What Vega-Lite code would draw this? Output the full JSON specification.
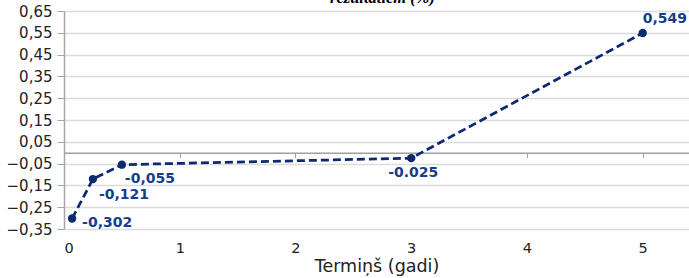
{
  "$schema": "https://vega.github.io/schema/vega-lite/v6.json",
  "width": 625,
  "height": 218,
  "autosize": {"type": "none"},
  "padding": {"left": 64, "top": 11, "right": 0, "bottom": 49},
  "background": "white",
  "title": {
    "text": "rezultātiem (%)",
    "font": "Liberation Serif",
    "fontSize": 16.5,
    "fontStyle": "italic",
    "fontWeight": "bold",
    "color": "#000000",
    "anchor": "middle",
    "baseline": "alphabetic",
    "offset": -15,
    "dx": 6
  },
  "config": {
    "view": {"stroke": null},
    "axis": {"labelFont": "DejaVu Sans", "titleFont": "DejaVu Sans"}
  },
  "data": {
    "values": [
      {"term": 0.07, "value": -0.302, "label": "-0,302"},
      {"term": 0.25, "value": -0.121, "label": "-0,121"},
      {"term": 0.5, "value": -0.055, "label": "-0,055"},
      {"term": 3, "value": -0.025, "label": "-0.025"},
      {"term": 5, "value": 0.549, "label": "0,549"}
    ]
  },
  "encoding": {
    "x": {
      "field": "term",
      "type": "quantitative",
      "scale": {"domain": [0, 5.4], "nice": false, "zero": false},
      "axis": {
        "values": [0, 1, 2, 3, 4, 5],
        "grid": false,
        "offset": -76.3,
        "domainColor": "#a0a0a0",
        "domainWidth": 1.5,
        "tickColor": "#a0a0a0",
        "tickSize": 5,
        "labelPadding": 84,
        "labelFontSize": 14.5,
        "labelColor": "#222222",
        "title": "Termiņš (gadi)",
        "titleFontSize": 17.5,
        "titleFontWeight": "normal",
        "titleColor": "#222222",
        "titlePadding": 2
      }
    },
    "y": {
      "field": "value",
      "type": "quantitative",
      "scale": {"domain": [-0.35, 0.65], "nice": false, "zero": false},
      "axis": {
        "values": [-0.35, -0.25, -0.15, -0.05, 0.05, 0.15, 0.25, 0.35, 0.45, 0.55, 0.65],
        "labelExpr": "replace(format(datum.value, '.2f'), '.', ',')",
        "gridColor": "#dcdcdc",
        "gridWidth": 1.5,
        "domainColor": "#a6a6a6",
        "domainWidth": 1.5,
        "tickColor": "#a6a6a6",
        "tickSize": 7,
        "labelPadding": 5,
        "labelFontSize": 15,
        "labelColor": "#222222",
        "title": null
      }
    }
  },
  "layer": [
    {
      "mark": {"type": "line", "color": "#0d2a6e", "strokeWidth": 2.75, "strokeDash": [8, 4]}
    },
    {
      "mark": {"type": "point", "filled": true, "color": "#0d2a6e", "size": 70, "opacity": 1}
    },
    {
      "transform": [{"filter": "datum.label == '-0,302'"}],
      "mark": {"type": "text", "align": "left", "baseline": "middle", "dx": 10, "dy": 4, "font": "DejaVu Sans", "fontSize": 14, "fontWeight": "bold", "color": "#163d8c"},
      "encoding": {"text": {"field": "label"}}
    },
    {
      "transform": [{"filter": "datum.label == '-0,121'"}],
      "mark": {"type": "text", "align": "left", "baseline": "middle", "dx": 6, "dy": 16, "font": "DejaVu Sans", "fontSize": 14, "fontWeight": "bold", "color": "#163d8c"},
      "encoding": {"text": {"field": "label"}}
    },
    {
      "transform": [{"filter": "datum.label == '-0,055'"}],
      "mark": {"type": "text", "align": "left", "baseline": "middle", "dx": 3, "dy": 14, "font": "DejaVu Sans", "fontSize": 14, "fontWeight": "bold", "color": "#163d8c"},
      "encoding": {"text": {"field": "label"}}
    },
    {
      "transform": [{"filter": "datum.label == '-0.025'"}],
      "mark": {"type": "text", "align": "center", "baseline": "middle", "dx": 2, "dy": 15, "font": "DejaVu Sans", "fontSize": 14, "fontWeight": "bold", "color": "#163d8c"},
      "encoding": {"text": {"field": "label"}}
    },
    {
      "transform": [{"filter": "datum.label == '0,549'"}],
      "mark": {"type": "text", "align": "left", "baseline": "middle", "dx": 0, "dy": -14, "font": "DejaVu Sans", "fontSize": 14, "fontWeight": "bold", "color": "#163d8c"},
      "encoding": {"text": {"field": "label"}}
    }
  ]
}
